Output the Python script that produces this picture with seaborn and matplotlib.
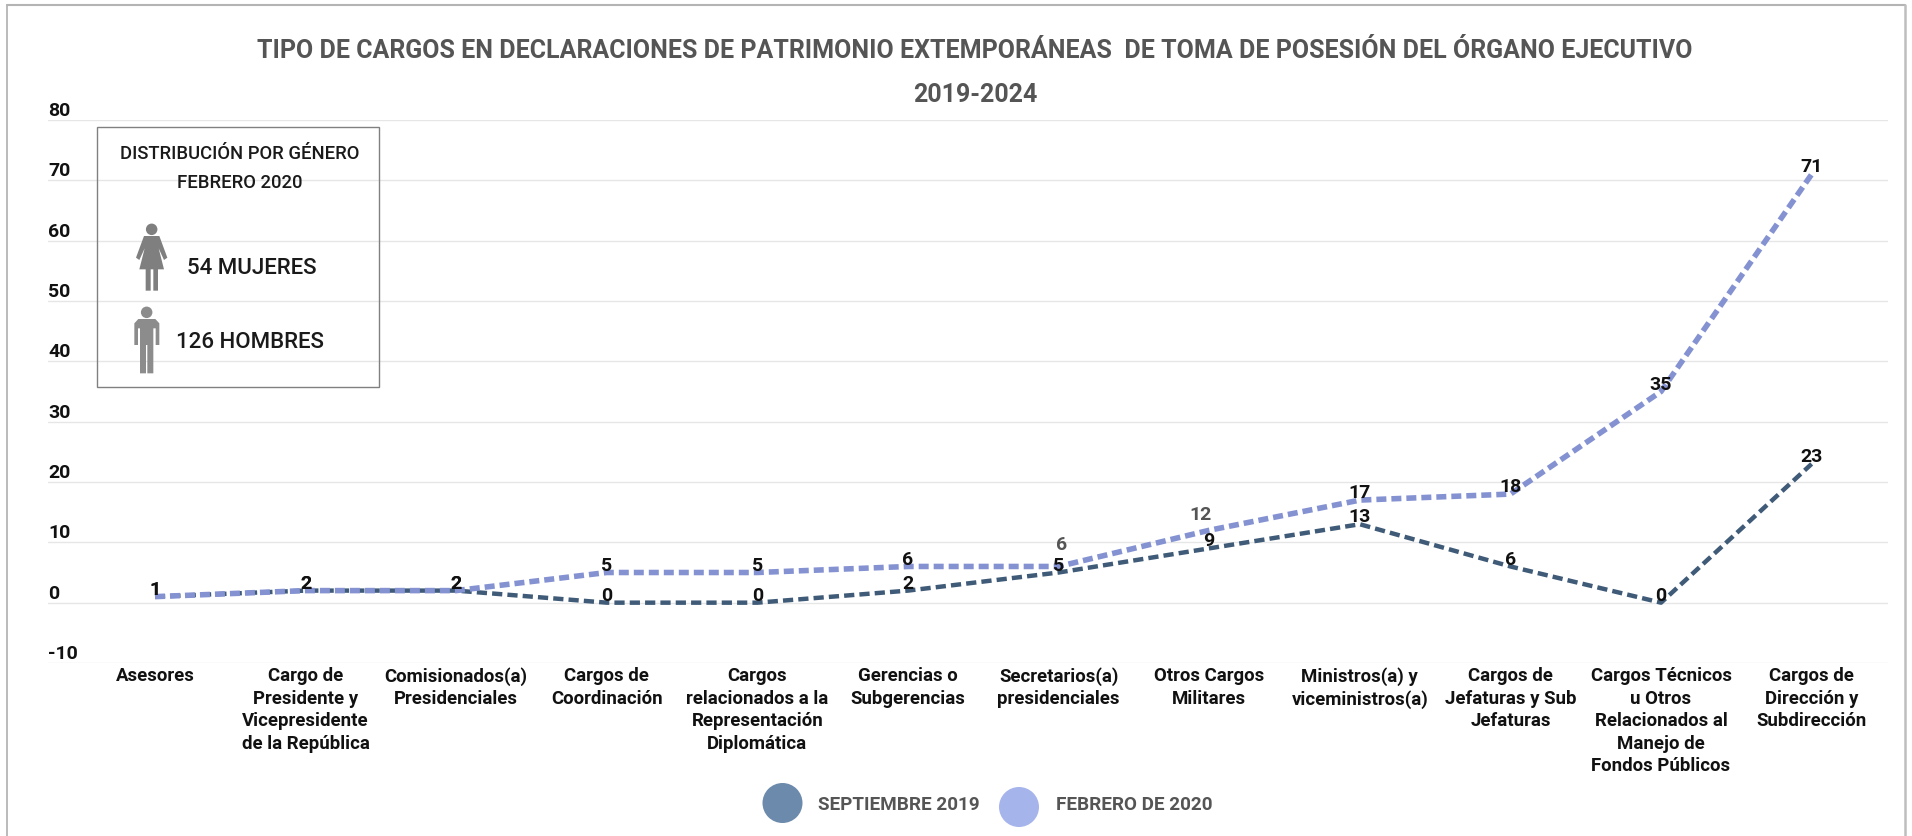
import pandas as pd
import matplotlib
matplotlib.use('Agg')
import matplotlib.pyplot as plt
import matplotlib.transforms as mtrans
from matplotlib.patches import Ellipse, Polygon, Rectangle
import seaborn as sns

# Datos
cargos = ['Asesores', 'Cargo de\nPresidente y\nVicepresidente\nde la República',
          'Comisionados(a)\nPresidenciales', 'Cargos de\nCoordinación',
          'Cargos\nrelacionados a la\nRepresentación\nDiplomática', 'Gerencias o\nSubgerencias',
          'Secretarios(a)\npresidenciales', 'Otros Cargos\nMilitares',
          'Ministros(a) y\nviceministros(a)', 'Cargos de\nJefaturas y Sub\nJefaturas',
          'Cargos Técnicos\nu Otros\nRelacionados al\nManejo de\nFondos Públicos',
          'Cargos de\nDirección y\nSubdirección']
septiembre_2019 = [1, 2, 2, 0, 0, 2, 5, 9, 13, 6, 0, 23]
febrero_2020 = [1, 2, 2, 5, 5, 6, 6, 12, 17, 18, 35, 71]
ticks_y = [-10, 0, 10, 20, 30, 40, 50, 60, 70, 80]

W, H = 1912, 836
AZUL_OSCURO = '#3F5B78'
AZUL_CLARO = '#8492D2'
GRIS = '#555555'

sns.set_theme(style='white')
plt.rcParams['font.family'] = ['Roboto', 'DejaVu Sans']
plt.rcParams['axes.unicode_minus'] = False

df = pd.DataFrame({'cargo': cargos, 'sep': septiembre_2019, 'feb': febrero_2020})

fig = plt.figure(figsize=(W / 100, H / 100), dpi=100, facecolor='white')

# Capa en pixeles para marco, titulo, recuadro y leyenda
capa = fig.add_axes([0, 0, 1, 1])
capa.set_xlim(0, W)
capa.set_ylim(H, 0)
capa.axis('off')
capa.set_zorder(3)

# Ejes: de x=48 a x=1888, y=80 en 120 px, y=-10 en 663 px
ax = fig.add_axes([48 / W, 1 - 663 / H, 1840 / W, 543 / H])
ax.patch.set_alpha(0)

sns.lineplot(data=df, x='cargo', y='sep', color=AZUL_OSCURO, linewidth=3.2, dashes=(2.3, 1.15),
             sort=False, ax=ax)
sns.lineplot(data=df, x='cargo', y='feb', color=AZUL_CLARO, linewidth=4.0, dashes=(1.8, 0.9),
             sort=False, ax=ax)

ax.set_xlim(-0.7105, 11.507)
ax.set_ylim(-10, 80)
ax.set_yticks(ticks_y)
ax.set_xlabel('')
ax.set_ylabel('')
ax.grid(axis='y', color='#E6E6E6', linewidth=1)
ax.set_axisbelow(True)
sns.despine(ax=ax, left=True, bottom=True)
ax.tick_params(axis='x', length=0, pad=3, labelsize=13.4)
ax.tick_params(axis='y', length=0, pad=0, labelsize=14)
for t in ax.get_xticklabels():
    t.set_fontweight('bold')
    t.set_color('#111111')
    t.set_linespacing(1.32)
sube = mtrans.ScaledTranslation(0, 4 / 100, fig.dpi_scale_trans)
for t in ax.get_yticklabels():
    t.set_fontweight('bold')
    t.set_color('#111111')
    t.set_ha('left')
    t.set_va('baseline')
    t.set_transform(t.get_transform() + sube)

# Etiquetas de datos
for i, v in enumerate(septiembre_2019):
    ax.annotate(str(v), (i, v), xytext=(0, 5), textcoords='offset points', ha='center', va='center',
                fontsize=14, fontweight='bold', color='#111111')
for i, v in enumerate(febrero_2020):
    if i == 6:
        ax.annotate(str(v), (i, v), xytext=(2, 15.5), textcoords='offset points', ha='center', va='center',
                    fontsize=14, color=GRIS, fontweight='bold')
    elif i == 7:
        ax.annotate(str(v), (i, v), xytext=(-6, 11), textcoords='offset points', ha='center', va='center',
                    fontsize=14, color=GRIS, fontweight='bold')
    else:
        ax.annotate(str(v), (i, v), xytext=(0, 5), textcoords='offset points', ha='center', va='center',
                    fontsize=14, fontweight='bold', color='#111111')

# Marco de la imagen
capa.plot([7, 7], [H, 5], color='#A8A8A8', linewidth=1.1)
capa.plot([7, 1905], [5, 5], color='#B4B4B4', linewidth=1.5)
capa.plot([1905, 1905], [5, H], color='#BEBEBE', linewidth=1.8)

# Titulo
capa.text(975, 51, 'TIPO DE CARGOS EN DECLARACIONES DE PATRIMONIO EXTEMPORÁNEAS  DE TOMA DE POSESIÓN DEL ÓRGANO EJECUTIVO',
          ha='center', va='center', fontsize=18, fontweight='bold', color=GRIS)
capa.text(975, 95, '2019-2024', ha='center', va='center', fontsize=18, fontweight='bold', color=GRIS)

# Recuadro de genero
capa.add_patch(Rectangle((97, 127), 282, 260, fill=False, edgecolor='#808080', linewidth=1))
capa.text(240, 154, 'DISTRIBUCIÓN POR GÉNERO', ha='center', va='center', fontsize=13.3, fontweight=500, color='#1A1A1A')
capa.text(240, 183, 'FEBRERO 2020', ha='center', va='center', fontsize=13.3, fontweight=500, color='#1A1A1A')
capa.text(252, 269, '54 MUJERES', ha='center', va='center', fontsize=16, fontweight=500, color='#1A1A1A')
capa.text(250, 342, '126 HOMBRES', ha='center', va='center', fontsize=16, fontweight=500, color='#1A1A1A')


def figura(puntos, color):
    # puntos medidos en el recorte ampliado x3 desde (60, 90)
    capa.add_patch(Polygon([(60 + x / 3, 90 + y / 3) for x, y in puntos], closed=True, color=color, linewidth=0))


def cabeza(x, y, color):
    capa.add_patch(Ellipse((60 + x / 3, 90 + y / 3), 11.5, 11.5, color=color, linewidth=0))


# Mujer
cabeza(275, 418, '#7F7F7F')
figura([(252, 438), (298, 438), (322, 503), (312, 510), (296, 475), (312, 538), (294, 538), (294, 602), (280, 602),
        (280, 538), (272, 538), (272, 602), (257, 602), (257, 538), (238, 538), (254, 475), (238, 510), (228, 503)],
       '#7F7F7F')
# Hombre
cabeza(260, 667, '#8C8C8C')
figura([(235, 687), (286, 687), (298, 700), (298, 765), (287, 765), (287, 715), (280, 715), (280, 850), (262, 850),
        (262, 765), (258, 765), (258, 850), (240, 850), (240, 715), (234, 715), (234, 765), (223, 765), (223, 700)],
       '#8C8C8C')

# Leyenda
capa.add_patch(Ellipse((782.5, 803), 40, 40, color='#6C8AAB', linewidth=0))
capa.add_patch(Ellipse((1019, 807), 40, 40, color='#A6B4EC', linewidth=0))
capa.text(818, 805, 'SEPTIEMBRE 2019', ha='left', va='center', fontsize=13.6, fontweight='bold', color=GRIS)
capa.text(1056, 805, 'FEBRERO DE 2020', ha='left', va='center', fontsize=13.6, fontweight='bold', color=GRIS)

fig.savefig('out.png', dpi=100)
